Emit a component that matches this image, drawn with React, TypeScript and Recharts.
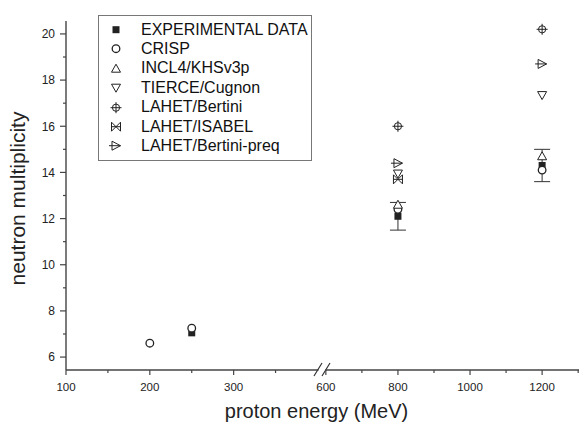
import React from 'react';
import { ScatterChart, Scatter, XAxis, YAxis, ErrorBar, Legend, ReferenceDot, Label } from 'recharts';

// proton energies (MeV) and neutron multiplicities
const energies = [200, 250, 800, 1200];
const experimental = [null, 7.05, 12.1, 14.3];
const experimentalErr = [null, 0, 0.6, 0.7];
const crisp = [6.6, 7.25, 12.4, 14.1];
const incl4 = [null, null, 12.6, 14.7];
const tierce = [null, null, 13.95, 17.35];
const lahetBertini = [null, null, 16.0, 20.2];
const lahetIsabel = [null, null, 13.7, null];
const lahetPreq = [null, null, 14.4, 18.7];

const xMajorTicks = [100, 200, 300, 600, 800, 1000, 1200];
const xMinorTicks = [150, 250, 350, 700, 900, 1100, 1300];
const yMajorTicks = [6, 8, 10, 12, 14, 16, 18, 20];
const yMinorTicks = [7, 9, 11, 13, 15, 17, 19];

// broken x axis: below the break values are kept, above it they are squeezed
const BREAK_AT = 406;
const toAxis = (e: number) => (e < 500 ? e : 410 + (e - 600) * 0.43);
const X_DOMAIN: [number, number] = [100, 712];
const Y_DOMAIN: [number, number] = [5.44, 20.56];

const INK = '#222';
const FONT = '"Liberation Sans", Arial, Helvetica, sans-serif';

const series = [
  { name: 'EXPERIMENTAL DATA', values: experimental, errors: experimentalErr, kind: 'square' },
  { name: 'CRISP', values: crisp, kind: 'circle' },
  { name: 'INCL4/KHSv3p', values: incl4, kind: 'up' },
  { name: 'TIERCE/Cugnon', values: tierce, kind: 'down' },
  { name: 'LAHET/Bertini', values: lahetBertini, kind: 'crosshair' },
  { name: 'LAHET/ISABEL', values: lahetIsabel, kind: 'bowtie' },
  { name: 'LAHET/Bertini-preq', values: lahetPreq, kind: 'preq' },
];

function Marker({ kind, cx, cy }: { kind: string; cx: number; cy: number }) {
  const s = { stroke: INK, strokeWidth: 1, fill: '#fff' };
  switch (kind) {
    case 'square':
      return <rect x={cx - 3.5} y={cy - 3.5} width={7} height={7} fill={INK} />;
    case 'circle':
      return <circle cx={cx} cy={cy} r={3.8} {...s} strokeWidth={1.3} />;
    case 'up':
      return <path d={`M${cx},${cy - 4.5}L${cx + 4.5},${cy + 3.5}L${cx - 4.5},${cy + 3.5}Z`} {...s} />;
    case 'down':
      return <path d={`M${cx - 4.5},${cy - 3.5}L${cx + 4.5},${cy - 3.5}L${cx},${cy + 4.5}Z`} {...s} />;
    case 'crosshair':
      return (
        <g>
          <circle cx={cx} cy={cy} r={3.6} {...s} />
          <path d={`M${cx - 5.5},${cy}H${cx + 5.5}M${cx},${cy - 5.5}V${cy + 5.5}`} stroke={INK} strokeWidth={1} />
        </g>
      );
    case 'bowtie':
      return (
        <g>
          <path d={`M${cx - 4.5},${cy - 4.5}L${cx + 4.5},${cy + 4.5}L${cx + 4.5},${cy - 4.5}L${cx - 4.5},${cy + 4.5}Z`} {...s} fill="none" />
          <path d={`M${cx - 4.5},${cy}H${cx + 4.5}`} stroke={INK} strokeWidth={1} />
        </g>
      );
    case 'preq':
      return (
        <g>
          <path d={`M${cx - 4},${cy - 4.5}L${cx + 4.5},${cy}L${cx - 4},${cy + 4.5}Z`} {...s} />
          <path d={`M${cx - 7},${cy}H${cx + 4.5}`} stroke={INK} strokeWidth={1} />
        </g>
      );
    default:
      return null;
  }
}

const xTickList = [...xMajorTicks, ...xMinorTicks].map((e) => ({ e, u: toAxis(e), major: xMajorTicks.includes(e) }));

function XTick(props: any) {
  const { x, y, payload } = props;
  const t = xTickList.find((d) => Math.abs(d.u - payload.value) < 1e-6);
  if (!t) return null;
  const axisY = y; // tickSize and tickMargin are 0
  return (
    <g>
      <line x1={x} x2={x} y1={axisY} y2={axisY + (t.major ? 5 : 3)} stroke="#444" strokeWidth={1.2} />
      {t.major && (
        <text x={x} y={axisY + 21} textAnchor="middle" fontSize={11.5} fontFamily={FONT} fill={INK}>
          {t.e}
        </text>
      )}
    </g>
  );
}

function YTick(props: any) {
  const { x, y, payload } = props;
  const major = yMajorTicks.includes(payload.value);
  return (
    <g>
      <line x1={x} x2={x - (major ? 6 : 3)} y1={y} y2={y} stroke="#444" strokeWidth={1.2} />
      {major && (
        <text x={x - 11} y={y + 4.3} textAnchor="end" fontSize={12} fontFamily={FONT} fill={INK}>
          {payload.value}
        </text>
      )}
    </g>
  );
}

function LegendBox() {
  return (
    <div style={{ border: '1px solid #777', background: '#fff', padding: '4px 0', boxSizing: 'border-box', fontFamily: FONT, fontSize: 16, color: '#111' }}>
      {series.map((s) => (
        <div key={s.name} style={{ display: 'flex', alignItems: 'center', height: 19.4, whiteSpace: 'nowrap' }}>
          <svg width={42} height={19.4} style={{ flex: 'none' }}>
            <Marker kind={s.kind} cx={17} cy={9.7} />
          </svg>
          <span>{s.name}</span>
        </div>
      ))}
    </div>
  );
}

function AxisBreak(props: any) {
  const { cx, cy } = props;
  return (
    <g>
      <rect x={cx - 4} y={cy - 2} width={7} height={4} fill="#fff" />
      <path d={`M${cx - 8.5},${cy + 6}L${cx - 0.5},${cy - 7}M${cx - 0.5},${cy + 6}L${cx + 7.5},${cy - 7}`} stroke="#333" strokeWidth={1.2} fill="none" />
    </g>
  );
}

export default function App() {
  return (
    <div style={{ position: 'absolute', left: 0, top: 0, width: 579, height: 423, background: '#fff', fontFamily: FONT }}>
      <ScatterChart width={579} height={423} margin={{ top: 21, right: 0, bottom: 0, left: 0 }}>
        <XAxis
          type="number"
          dataKey="x"
          domain={X_DOMAIN}
          ticks={xTickList.map((t) => t.u)}
          interval={0}
          allowDataOverflow
          height={53}
          tickSize={0}
          tickMargin={0}
          tick={<XTick />}
          axisLine={{ stroke: '#444', strokeWidth: 1.4 }}
        >
          <Label
            content={(p: any) => (
              <text x={p.viewBox.x + p.viewBox.width / 2 - 6} y={p.viewBox.y + 48} textAnchor="middle" fontSize={20} fontFamily={FONT} fill={INK}>
                proton energy (MeV)
              </text>
            )}
          />
        </XAxis>
        <YAxis
          type="number"
          dataKey="y"
          domain={Y_DOMAIN}
          ticks={[...yMajorTicks, ...yMinorTicks]}
          interval={0}
          allowDataOverflow
          width={66}
          tickSize={0}
          tickMargin={0}
          tick={<YTick />}
          axisLine={{ stroke: '#444', strokeWidth: 1.4 }}
        >
          <Label
            content={(p: any) => {
              const cy = p.viewBox.y + p.viewBox.height / 2 + 3;
              return (
                <text
                  x={17}
                  y={cy}
                  transform={`rotate(-90 17 ${cy})`}
                  textAnchor="middle"
                  dominantBaseline="central"
                  fontSize={21}
                  fontFamily={FONT}
                  fill={INK}
                >
                  neutron multiplicity
                </text>
              );
            }}
          />
        </YAxis>
        {series.map((s) => {
          const data = energies
            .map((e, i) => (s.values[i] == null ? null : { x: toAxis(e), y: s.values[i], err: s.errors ? s.errors[i] : 0 }))
            .filter(Boolean);
          return (
            <Scatter
              key={s.name}
              name={s.name}
              data={data as any[]}
              isAnimationActive={false}
              shape={(p: any) => <Marker kind={s.kind} cx={p.cx} cy={p.cy} />}
            >
              {s.errors && <ErrorBar dataKey="err" direction="y" width={8} stroke="#333" strokeWidth={1} />}
            </Scatter>
          );
        })}
        <ReferenceDot x={BREAK_AT} y={Y_DOMAIN[0]} ifOverflow="visible" shape={<AxisBreak />} />
        <Legend
          layout="vertical"
          align="center"
          verticalAlign="middle"
          content={() => <LegendBox />}
          wrapperStyle={{ left: 98, top: 15, width: 214, height: 144 }}
        />
      </ScatterChart>
    </div>
  );
}
